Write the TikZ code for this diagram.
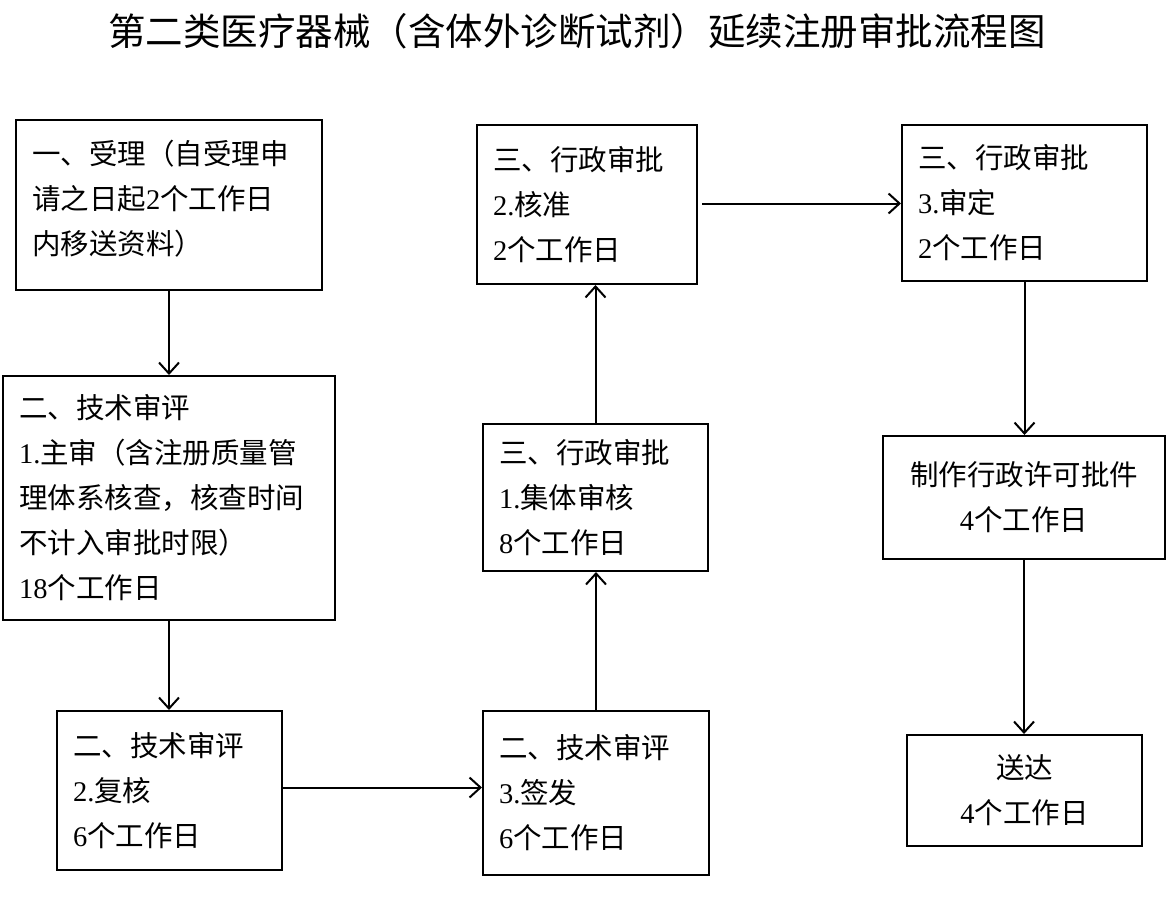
\documentclass[tikz,border=0pt]{standalone}
\usepackage{fontspec}
\setmainfont{Liberation Serif}
\newfontfamily\cjk{Noto Sans CJK SC}
\usetikzlibrary{arrows.meta}
\newcommand{\C}[1]{{\cjk #1}}
\tikzset{
  box/.style={draw, line width=2pt, anchor=north west, inner xsep=16pt, inner ysep=0pt,
    align=left, font=\fontsize{28.5}{45}\selectfont},
  cbox/.style={box, align=center},
  arr/.style={line width=2pt, -{Straight Barb[length=11pt,width=20pt,line width=2pt]}}
}
\begin{document}
\begin{tikzpicture}[x=1pt,y=-1pt]
\useasboundingbox (0,0) rectangle (1166,900);
\node[font=\fontsize{37.5}{40}\selectfont] (title) at (577,31) {\C{第二类医疗器械（含体外诊断试剂）延续注册审批流程图}};

\node[box, draw=none, text width=274pt, minimum height=158pt] (b1t) at (15,119)
  {\C{一、受理（自受理申}\\ \C{请之日起}2\C{个工作日}\\ \C{内移送资料）}};
\node[draw, line width=2pt, anchor=north west, inner sep=0pt, minimum width=306pt, minimum height=170pt] (b1) at (15,119) {};
\node[box, text width=300pt, minimum height=244pt] (b2) at (2,375)
  {\C{二、技术审评}\\ 1.\C{主审（含注册质量管}\\ \C{理体系核查，核查时间}\\ \C{不计入审批时限）}\\ 18\C{个工作日}};
\node[box, text width=193pt, minimum height=159pt] (b3) at (56,710)
  {\C{二、技术审评}\\ 2.\C{复核}\\ 6\C{个工作日}};
\node[box, text width=194pt, minimum height=164pt] (b4) at (482,710)
  {\C{二、技术审评}\\ 3.\C{签发}\\ 6\C{个工作日}};
\node[box, text width=193pt, minimum height=147pt] (b5) at (482,423)
  {\C{三、行政审批}\\ 1.\C{集体审核}\\ 8\C{个工作日}};
\node[box, text width=188pt, minimum height=159pt] (b6) at (476,124)
  {\C{三、行政审批}\\ 2.\C{核准}\\ 2\C{个工作日}};
\node[box, text width=213pt, minimum height=156pt] (b7) at (901,124)
  {\C{三、行政审批}\\ 3.\C{审定}\\ 2\C{个工作日}};
\node[cbox, text width=250pt, minimum height=123pt] (b8) at (882,435)
  {\C{制作行政许可批件}\\ 4\C{个工作日}};
\node[cbox, text width=203pt, minimum height=111pt] (b9) at (906,734)
  {\C{送达}\\ 4\C{个工作日}};

\draw[arr] (b1.south) -- (b1.south |- b2.north);
\draw[arr] (b2.south) -- (b2.south |- b3.north);
\draw[arr] ([yshift=3pt]b3.east) -- ([yshift=3pt]b3.east -| b4.west);
\draw[arr] (b4.north) -- (b4.north |- b5.south);
\draw[arr] (b5.north) -- (b5.north |- b6.south);
\draw[arr] ([xshift=4pt,yshift=1pt]b6.east) -- ([yshift=1pt]b6.east -| b7.west);
\draw[arr] (b7.south) -- (b7.south |- b8.north);
\draw[arr] (b8.south) -- (b8.south |- b9.north);
\end{tikzpicture}
\end{document}
